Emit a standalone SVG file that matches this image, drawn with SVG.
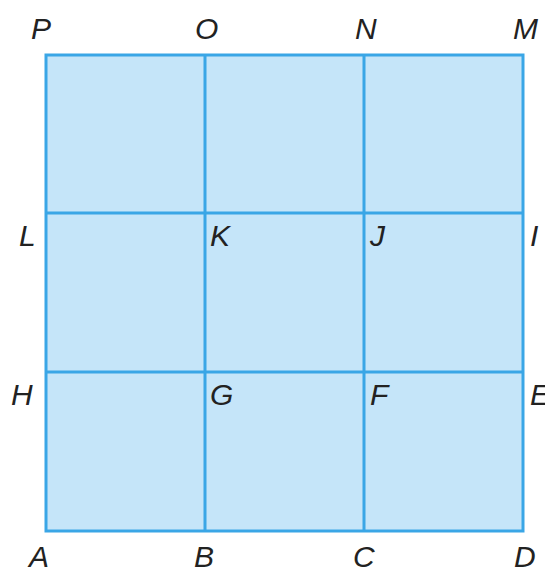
<svg xmlns="http://www.w3.org/2000/svg" width="545" height="571" viewBox="0 0 545 571">
<style>
.lbl{font-family:"Liberation Sans",Arial,sans-serif;font-style:italic;font-size:30px;fill:#222}
.ln{stroke:#3aa6e6;stroke-width:3;fill:none}
</style>
<rect width="545" height="571" fill="#fff"/>
<g id="grid">
<rect x="46" y="55" width="477" height="476" fill="#c5e5f9"/>
<g id="connectors">
<line class="ln" x1="205" y1="55" x2="205" y2="531"/>
<line class="ln" x1="364" y1="55" x2="364" y2="531"/>
<line class="ln" x1="46" y1="213" x2="523" y2="213"/>
<line class="ln" x1="46" y1="372" x2="523" y2="372"/>
<rect class="ln" x="46" y="55" width="477" height="476"/>
</g>
</g>
<g id="labels">
<text class="lbl" x="31" y="39">P</text>
<text class="lbl" x="195" y="39">O</text>
<text class="lbl" x="355" y="39">N</text>
<text class="lbl" x="513" y="39">M</text>
<text class="lbl" x="19" y="246">L</text>
<text class="lbl" x="210" y="246">K</text>
<text class="lbl" x="370" y="246">J</text>
<text class="lbl" x="530" y="246">I</text>
<text class="lbl" x="11" y="405">H</text>
<text class="lbl" x="210" y="405">G</text>
<text class="lbl" x="370" y="405">F</text>
<text class="lbl" x="530" y="405">E</text>
<text class="lbl" x="29" y="567">A</text>
<text class="lbl" x="194" y="567">B</text>
<text class="lbl" x="353" y="567">C</text>
<text class="lbl" x="514" y="567">D</text>
</g>
</svg>
